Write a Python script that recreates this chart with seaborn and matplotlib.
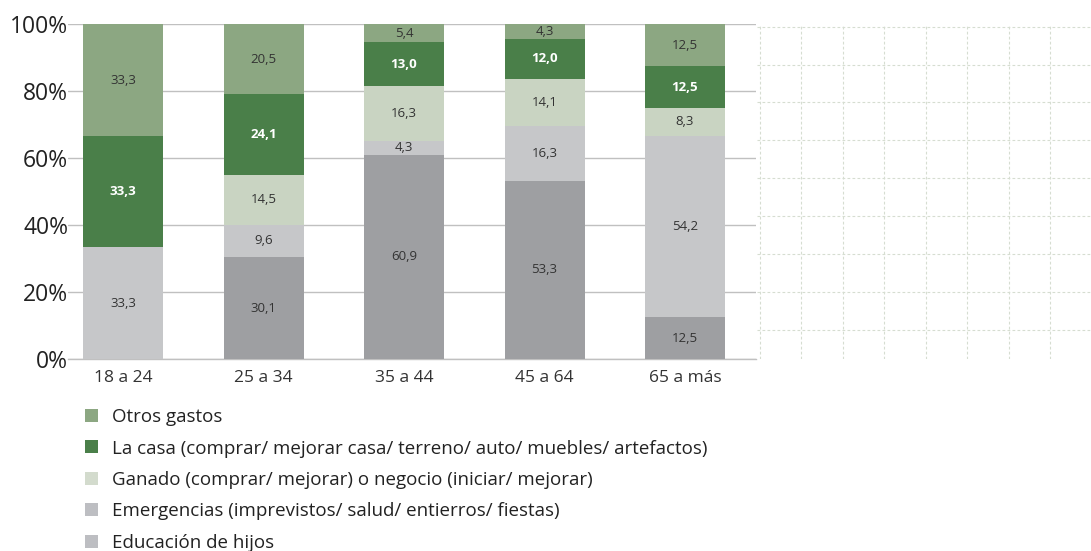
import matplotlib
matplotlib.use("Agg")
import matplotlib.pyplot as plt
import seaborn as sns
import pandas as pd
import numpy as np
from matplotlib.patches import Patch

# Data (percent)
age_groups = ["18 a 24", "25 a 34", "35 a 44", "45 a 64", "65 a más"]
series_names = [
    "Educación de hijos",
    "Emergencias (imprevistos/ salud/ entierros/ fiestas)",
    "Ganado (comprar/ mejorar) o negocio (iniciar/ mejorar)",
    "La casa (comprar/ mejorar casa/ terreno/ auto/ muebles/ artefactos)",
    "Otros gastos",
]
educacion = [0.0, 30.1, 60.9, 53.3, 12.5]
emergencias = [33.3, 9.6, 4.3, 16.3, 54.2]
ganado = [0.0, 14.5, 16.3, 14.1, 8.3]
casa = [33.3, 24.1, 13.0, 12.0, 12.5]
otros = [33.3, 20.5, 5.4, 4.3, 12.5]

bar_colors = ["#9e9fa2", "#c6c7c9", "#c9d4c2", "#4a7f49", "#8ca782"]
legend_colors = ["#bdbec2", "#bdbec2", "#d3dbcd", "#4a7f49", "#8ca782"]
label_colors = ["#333333", "#333333", "#333333", "white", "#333333"]
label_weights = ["normal", "normal", "normal", "bold", "normal"]

df = pd.DataFrame(
    {name: vals for name, vals in zip(series_names, [educacion, emergencias, ganado, casa, otros])},
    index=age_groups,
)
# 100% stacked columns
shares = df.div(df.sum(axis=1), axis=0) * 100
cum = shares.cumsum(axis=1)

sns.set_style("white")
plt.rcParams["font.family"] = ["Open Sans", "DejaVu Sans"]

W, H = 1091, 551
fig = plt.figure(figsize=(W / 100, H / 100), dpi=100)
ax = fig.add_axes([68 / W, 1 - 359 / H, (756 - 68) / W, (359 - 24.3) / H])

# decorative dotted grid on the right
ax2 = fig.add_axes([757 / W, 1 - 359 / H, (W - 757) / W, (359 - 24.3) / H])
ax2.set_xlim(757, W)
ax2.set_ylim(359, 24.3)
ax2.set_xticks(np.arange(759.7, W, 41.5))
ax2.set_yticks(np.arange(26.7, 340, 37.9))
ax2.grid(True, color="#d6ddd1", linestyle=(0, (2.5, 2)), linewidth=0.8)
ax2.tick_params(length=0, labelbottom=False, labelleft=False)
for s in ax2.spines.values():
    s.set_visible(False)

bar_w = 80 / 140.5
# draw cumulative totals from the top series down so they stack
for i in range(len(series_names) - 1, -1, -1):
    sns.barplot(x=age_groups, y=cum.iloc[:, i].values, color=bar_colors[i],
                width=bar_w, saturation=1, ax=ax, zorder=3, linewidth=0)

for j, grp in enumerate(age_groups):
    for i, name in enumerate(series_names):
        v = df.loc[grp, name]
        if v <= 0:
            continue
        y = cum.iloc[j, i] - shares.iloc[j, i] / 2
        ax.text(j, y, f"{v:.1f}".replace(".", ","), ha="center", va="center",
                fontsize=9.5, color=label_colors[i], fontweight=label_weights[i], zorder=4)

ax.set_xlim(-(123 - 68) / 140.5, 4 + (756 - 685) / 140.5)
ax.set_ylim(0, 100)
ax.set_yticks(np.arange(0, 101, 20))
ax.set_yticklabels([f"{t}%" for t in range(0, 101, 20)], fontsize=16.5, color="#222222")
ax.tick_params(axis="y", length=0, pad=0)
ax.tick_params(axis="x", length=0, pad=8, labelsize=12.5, labelcolor="#333333")
ax.set_xlabel("")
ax.set_ylabel("")
ax.grid(axis="y", color="#c0c0c0", linewidth=1, zorder=0)
ax.set_axisbelow(True)
for side in ["left", "right", "top"]:
    ax.spines[side].set_visible(False)
ax.spines["bottom"].set_color("#c0c0c0")
ax.spines["bottom"].set_linewidth(1)

handles = [Patch(facecolor=legend_colors[i], edgecolor="none", label=series_names[i])
           for i in range(len(series_names) - 1, -1, -1)]
fig.legend(handles=handles, loc="upper left", bbox_to_anchor=(85 / W, 1 - 408 / H),
           frameon=False, fontsize=13.5, handlelength=0.69, handleheight=0.69,
           handletextpad=0.75, labelspacing=0.72, borderpad=0, borderaxespad=0,
           labelcolor="#222222")

fig.savefig("out.png", dpi=100)
